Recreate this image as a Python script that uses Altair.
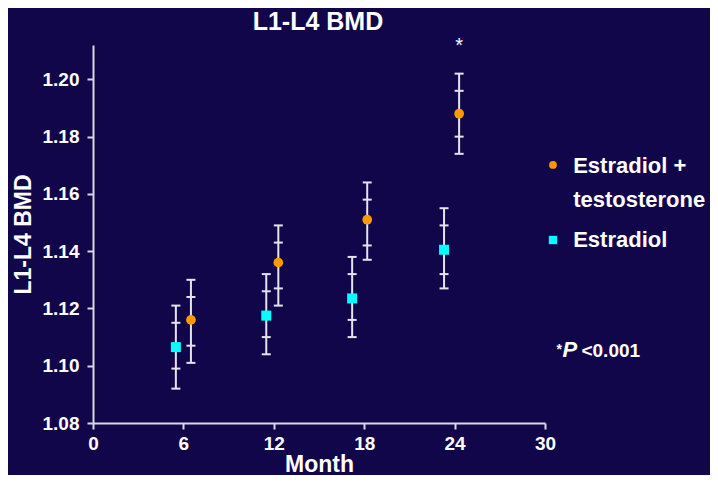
import altair as alt
import pandas as pd

# ---- data ----
groups = ["Estradiol + testosterone", "Estradiol"]

months_et = [6.5, 12.3, 18.2, 24.3]
bmd_et = [1.116, 1.136, 1.151, 1.188]
outer_lo_et = [1.101, 1.121, 1.137, 1.174]
outer_hi_et = [1.130, 1.149, 1.164, 1.202]
inner_lo_et = [1.107, 1.127, 1.142, 1.180]
inner_hi_et = [1.124, 1.143, 1.158, 1.196]

months_e = [5.5, 11.5, 17.2, 23.3]
bmd_e = [1.1065, 1.1175, 1.1235, 1.1405]
outer_lo_e = [1.092, 1.104, 1.110, 1.127]
outer_hi_e = [1.121, 1.132, 1.138, 1.155]
inner_lo_e = [1.099, 1.110, 1.116, 1.132]
inner_hi_e = [1.115, 1.126, 1.132, 1.149]

x_ticks = [0, 6, 12, 18, 24, 30]
y_ticks = [1.08, 1.10, 1.12, 1.14, 1.16, 1.18, 1.20]

chart_title = "L1-L4 BMD"
legend_lines = ["Estradiol +", "testosterone", "Estradiol"]
p_parts = ["*", "P", "<0.001"]

BG = "#12064a"
FG = "#ffffff"
BAR = "#e4e4ee"
ORANGE = "#ff9900"
CYAN = "#00ffff"
FONT = "Liberation Sans"

rows = []
for g, ms, b, ol, oh, il, ih in [
    (groups[0], months_et, bmd_et, outer_lo_et, outer_hi_et, inner_lo_et, inner_hi_et),
    (groups[1], months_e, bmd_e, outer_lo_e, outer_hi_e, inner_lo_e, inner_hi_e),
]:
    for i in range(len(ms)):
        rows.append(dict(group=g, month=ms[i], bmd=b[i], olo=ol[i], ohi=oh[i], ilo=il[i], ihi=ih[i]))
df = pd.DataFrame(rows)

tick_rows = []
for r in rows:
    for k in ["olo", "ohi", "ilo", "ihi"]:
        tick_rows.append(dict(group=r["group"], month=r["month"], v=r[k]))
df_ticks = pd.DataFrame(tick_rows)

xs = alt.Scale(domain=[0, 30], nice=False, zero=False)
ys = alt.Scale(domain=[1.08, 1.212], nice=False, zero=False)

x_axis = alt.Axis(values=x_ticks, title="Month", titleY=48, titleBaseline="alphabetic",
                  labelPadding=5, labelFlush=False)
y_axis = alt.Axis(values=y_ticks, format=".2f", title="L1-L4 BMD", titleX=-63,
                  titleY=189, titleAngle=-90, titleBaseline="alphabetic", titleAlign="center",
                  labelPadding=8, labelFlush=False)


def X(field):
    return alt.X(field, type="quantitative", scale=xs, axis=x_axis, title="Month")


def Y(field):
    return alt.Y(field, type="quantitative", scale=ys, axis=y_axis, title="L1-L4 BMD")


def txt(frame, **kw):
    base = dict(font=FONT, color=FG, baseline="alphabetic", clip=False)
    base.update(kw)
    return alt.Chart(frame).mark_text(**base).encode(x=X("month"), y=Y("y"), text="t:N")


rules = alt.Chart(df).mark_rule(color=BAR, strokeWidth=2).encode(
    x=X("month"), y=Y("olo"), y2="ohi"
)
caps = alt.Chart(df_ticks).mark_tick(color=BAR, orient="horizontal", size=9, thickness=2, opacity=1).encode(
    x=X("month"), y=Y("v")
)
pts_et = alt.Chart(df[df.group == groups[0]]).mark_point(
    shape="circle", filled=True, size=95, color=ORANGE, opacity=1
).encode(x=X("month"), y=Y("bmd"))
pts_e = alt.Chart(df[df.group == groups[1]]).mark_point(
    shape="square", filled=True, size=100, color=CYAN, opacity=1
).encode(x=X("month"), y=Y("bmd"))

# chart title (as a text mark centred over the plot)
title = txt(pd.DataFrame({"month": [14.93], "y": [1.2172], "t": [chart_title]}),
            fontSize=25, fontWeight="bold", align="center")

# significance asterisk above the final E+T point
star = txt(pd.DataFrame({"month": [months_et[-1]], "y": [1.2094], "t": ["*"]}),
           fontSize=20, align="center")

# manual legend (placed in data space to the right of the plot)
leg_sym = pd.DataFrame({"month": [30.53, 30.53], "y": [1.1701, 1.1439], "g": groups})
leg_circle = alt.Chart(leg_sym.iloc[[0]]).mark_point(
    shape="circle", filled=True, size=60, color=ORANGE, opacity=1, clip=False
).encode(x=X("month"), y=Y("y"))
leg_square = alt.Chart(leg_sym.iloc[[1]]).mark_point(
    shape="square", filled=True, size=70, color=CYAN, opacity=1, clip=False
).encode(x=X("month"), y=Y("y"))
leg_text = txt(pd.DataFrame({
    "month": [31.87, 31.87, 31.87],
    "y": [1.1672, 1.1556, 1.1416],
    "t": legend_lines,
}), fontSize=22, fontWeight="bold", align="left")

p_star = txt(pd.DataFrame({"month": [30.76], "y": [1.1032], "t": [p_parts[0]]}),
             fontSize=14, fontWeight="bold", align="left", dy=-3)
p_p = txt(pd.DataFrame({"month": [30.76], "y": [1.1032], "t": [p_parts[1]]}),
          fontSize=22, fontWeight="bold", fontStyle="italic", align="left", dx=6)
p_rest = txt(pd.DataFrame({"month": [30.76], "y": [1.1032], "t": [p_parts[2]]}),
             fontSize=19, fontWeight="bold", align="left", dx=25)

chart = alt.layer(
    rules, caps, pts_et, pts_e, title, star, leg_circle, leg_square, leg_text, p_star, p_p, p_rest
).properties(
    width=452,
    height=378,
    background=BG,
    autosize=alt.AutoSizeParams(type="none"),
    padding={"left": 85, "top": 37, "right": 165, "bottom": 52},
).configure_view(
    strokeWidth=0
).configure_axis(
    grid=False,
    domainColor="#d8d8e2",
    domainWidth=2,
    tickColor="#d8d8e2",
    tickWidth=2,
    tickSize=6,
    labelColor=FG,
    labelFont=FONT,
    labelFontSize=19,
    labelFontWeight="bold",
    titleColor=FG,
    titleFont=FONT,
    titleFontSize=23,
    titleFontWeight="bold",
)

chart.save("out.html", embed_options={"renderer": "svg", "actions": False})
